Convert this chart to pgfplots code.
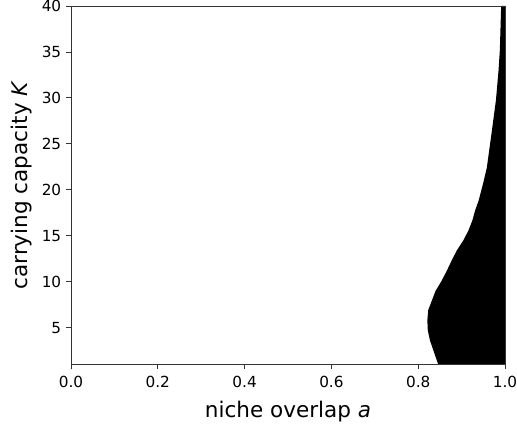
\documentclass[border=0pt]{standalone}
\usepackage{pgfplots}
\pgfplotsset{compat=1.18}
\usepackage{fontspec}
\setmainfont{DejaVu Sans}
\begin{document}
\begin{tikzpicture}
\begin{axis}[
  scale only axis,
  width=312.5pt, height=258pt,
  xmin=0, xmax=1, ymin=1, ymax=40,
  xtick={0,0.2,0.4,0.6,0.8,1.0},
  ytick={5,10,15,20,25,30,35,40},
  xticklabel style={yshift=-1.5pt, /pgf/number format/.cd, fixed, fixed zerofill, precision=1},
  /pgf/number format/assume math mode=true,
  tick align=outside,
  xtick pos=bottom, ytick pos=left,
  major tick length=3.5pt,
  tick style={black!80, line width=0.6pt},
  axis line style={black!80, line width=0.6pt},
  ticklabel style={font=\fontsize{11}{13}\selectfont},
  xlabel={niche overlap \textit{a}},
  ylabel={carrying capacity \textit{K}},
  label style={font=\fontsize{15.5}{17}\selectfont},
  xlabel style={yshift=-3pt},
  axis on top,
]
\addplot[fill=black, draw=none] coordinates {
  (1.0,1) (0.846,1) (0.843,1.4) (0.835,2.5) (0.827,3.6) (0.822,4.7)
  (0.821,5.8) (0.823,6.9) (0.831,7.9) (0.840,9.0) (0.854,10.1)
  (0.866,11.2) (0.877,12.3) (0.889,13.4) (0.904,14.5) (0.916,15.6)
  (0.925,16.7) (0.931,17.75) (0.939,18.8) (0.949,20.6) (0.958,22.4)
  (0.969,26.2) (0.979,29.75) (0.985,33) (0.988,35.2) (0.991,40) (1.0,40)
} -- cycle;
\end{axis}
\pgfresetboundingbox
\path ([xshift=-51.1pt,yshift=-45.4pt]current axis.south west) rectangle ([xshift=8.6pt,yshift=4.3pt]current axis.north east);
\end{tikzpicture}
\end{document}
